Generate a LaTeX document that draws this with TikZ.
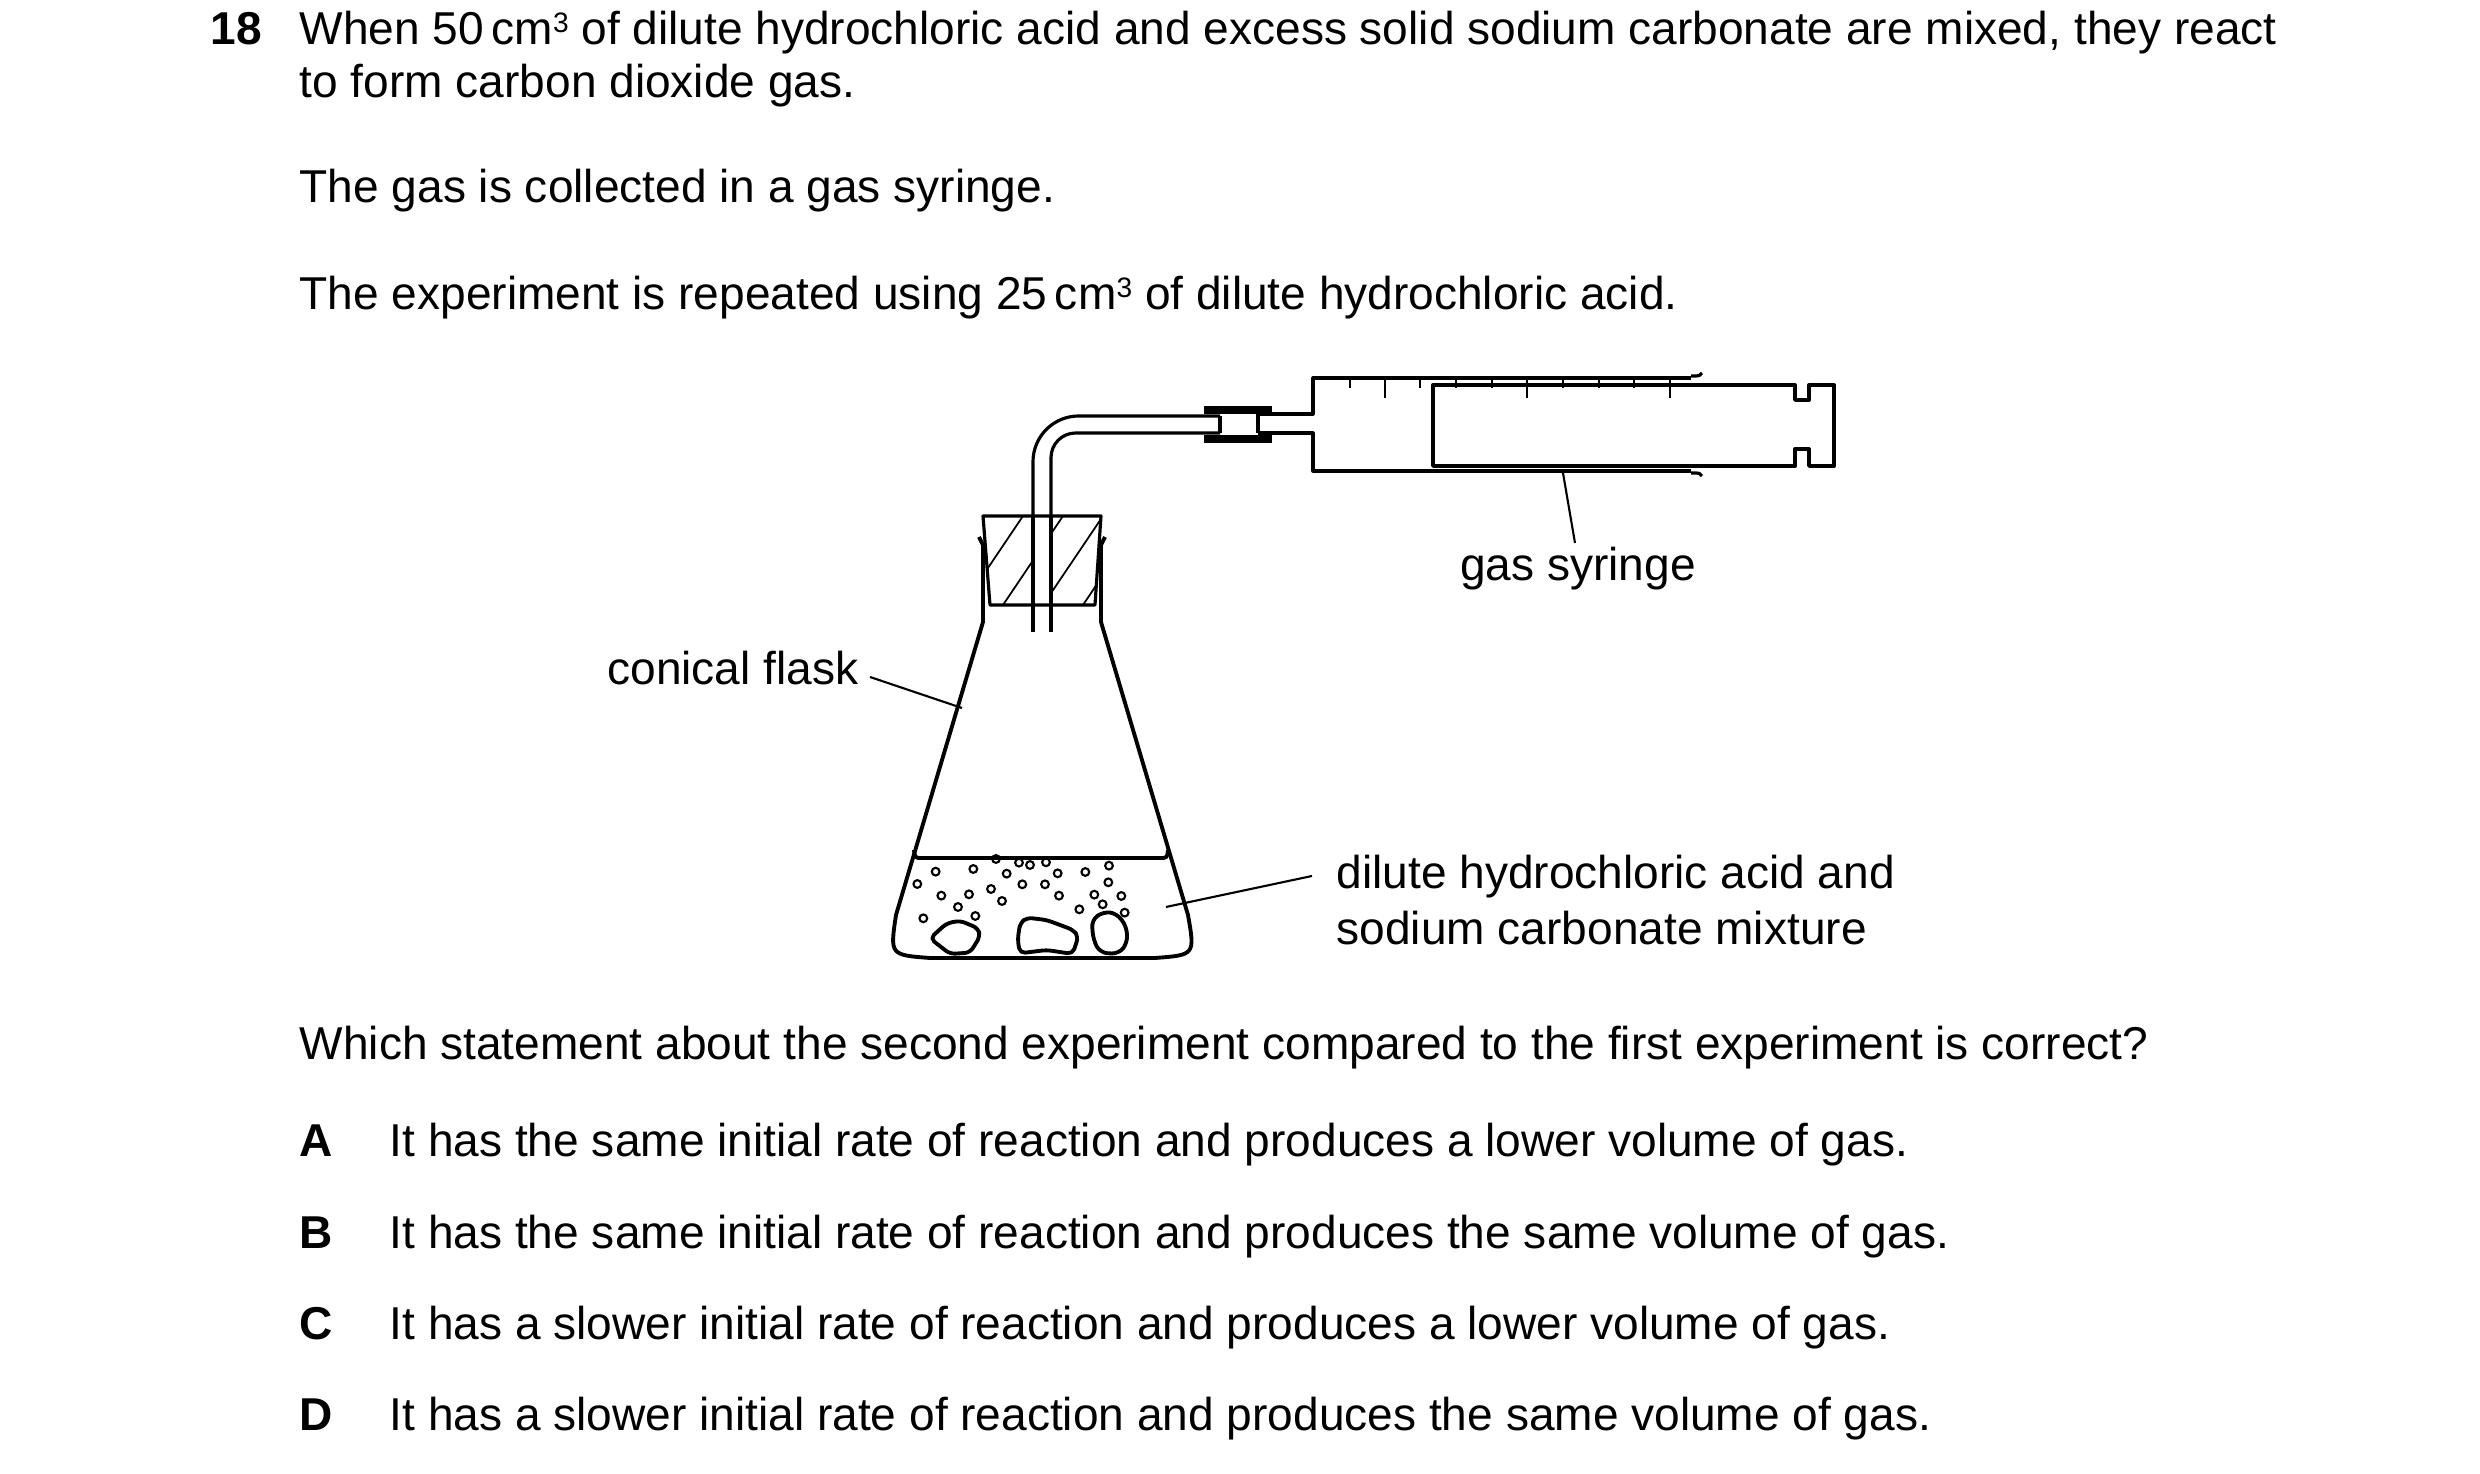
\documentclass[tikz,border=0pt]{standalone}
\usepackage{fontspec}
\setmainfont{Liberation Sans}
\begin{document}
\begin{tikzpicture}[x=0.01cm,y=-0.01cm,
  txt/.style={anchor=base west,inner sep=0pt,font=\fontsize{13.1}{15}\selectfont},
  app/.style={line width=0.9pt,line join=round},
  flask/.style={line width=1.1pt,line join=round},
  lead/.style={line width=0.6pt}]
\useasboundingbox (0,0) rectangle (2480,1474);
\def\cmc{\,cm\raisebox{0.5ex}{\fontsize{8}{8}\selectfont 3}}
% text
\node[txt,font=\fontsize{13.1}{15}\selectfont\bfseries] (q) at (210,45) {18};
\node[txt] (l1) at (299,45) {When 50\cmc{} of dilute hydrochloric acid and excess solid sodium carbonate are mixed, they react};
\node[txt] (l2) at (299,98) {to form carbon dioxide gas.};
\node[txt] (l3) at (299,203) {The gas is collected in a gas syringe.};
\node[txt] (l4) at (299,310) {The experiment is repeated using 25\cmc{} of dilute hydrochloric acid.};
\node[txt] (l5) at (299,1060) {Which statement about the second experiment compared to the first experiment is correct?};
\foreach \L/\y/\t in {A/1157/{It has the same initial rate of reaction and produces a lower volume of gas.},
  B/1249/{It has the same initial rate of reaction and produces the same volume of gas.},
  C/1340/{It has a slower initial rate of reaction and produces a lower volume of gas.},
  D/1431/{It has a slower initial rate of reaction and produces the same volume of gas.}}{
  \node[txt,font=\fontsize{13.1}{15}\selectfont\bfseries] (opt\L) at (299,\y) {\L};
  \node[txt] (txt\L) at (389,\y) {\t};
}
% labels
\node[txt,anchor=base] (gs) at (1578,581) {gas syringe};
\node[txt,anchor=base east] (cf) at (859,685) {conical flask};
\node[txt] (mx1) at (1336,889) {dilute hydrochloric acid and};
\node[txt] (mx2) at (1336,945) {sodium carbonate mixture};
\coordinate (cfa) at (870,677); \coordinate (cfb) at (962,708);
\draw[lead] (cfa) -- (cfb);
\coordinate (mxa) at (1312,876); \coordinate (mxb) at (1166,907);
\draw[lead] (mxa) -- (mxb);
\coordinate (gsa) at (1575,543); \coordinate (gsb) at (1563,473);
\draw[lead] (gsa) -- (gsb);
% syringe barrel
\draw[app] (1691,376) .. controls (1700,376) .. (1702,373);
\draw[app] (1691,473) .. controls (1700,473) .. (1702,476);
\draw[app] (1691,378) -- (1313,378) -- (1313,414) -- (1258,414);
\draw[app] (1691,471) -- (1313,471) -- (1313,433) -- (1258,433);
\foreach \x in {1350,1420,1456,1492,1563,1599,1634}{\draw[line width=0.6pt] (\x,378) -- (\x,388);}
\foreach \x in {1385,1527,1670}{\draw[line width=0.6pt] (\x,378) -- (\x,398);}
% plunger
\draw[app,line width=1.1pt] (1433,385) -- (1795,385) -- (1795,400) -- (1809,400) -- (1809,385) -- (1834,385)
  -- (1834,466) -- (1809,466) -- (1809,449) -- (1795,449) -- (1795,466) -- (1433,466) -- cycle;
% sleeve
\draw[line width=2pt] (1204,410) -- (1272,410);
\draw[line width=2pt] (1204,439) -- (1272,439);
\draw[app] (1220,416) -- (1220,433);
\draw[app] (1258,414) -- (1258,433);
% tube
\draw[app,rounded corners=13pt] (1033,632) -- (1033,416) -- (1220,416);
\draw[app,rounded corners=7pt] (1051,632) -- (1051,433) -- (1220,433);
% bung
\begin{scope}
\clip (983,516) -- (1101,516) -- (1095,605) -- (990,605) -- cycle;
\foreach \s in {-100,-60,...,260}{\draw[line width=0.5pt] (983+\s,605) -- (1043+\s,516);}
\fill[white] (1033,500) rectangle (1051,620);
\end{scope}
\draw[app] (983,516) -- (1101,516) -- (1095,605) -- (990,605) -- cycle;
\draw[app] (1033,516) -- (1033,632);
\draw[app] (1051,516) -- (1051,632);
% flask
\draw[flask] (979,537) -- (983,545) -- (983,622) -- (896,915) .. controls (890,955) .. (930,958)
  -- (1155,958) .. controls (1195,955) .. (1188,915) -- (1101,622) -- (1101,545) -- (1105,537);
\draw[flask] (914,850) .. controls (915,858) .. (922,858) -- (1160,858) .. controls (1167,858) .. (1168,850);
% bubbles
\foreach \a/\b in {112/162,167/125,280/117,348/87,380/131,417/98,450/105,498/97,533/130,616/126,687/107,685/157,724/198,734/248,643/194,668/223,598/238,537/197,495/163,427/163,366/213,333/177,267/193,184/197,234/231,286/258,130/265}
  {\draw[line width=0.6pt] (880+\a/3,830+\b/3) circle (1.1pt);}
% stones
\draw[flask,rounded corners=1.5pt] (880+150/3,830+325/3) -- (880+200/3,830+280/3) -- (880+240/3,830+272/3) -- (880+295/3,830+295/3) -- (880+300/3,830+320/3) -- (880+270/3,830+368/3) -- (880+210/3,830+372/3) -- cycle;
\draw[flask,rounded corners=1.5pt] (880+420/3,830+280/3) -- (880+440/3,830+263/3) -- (880+500/3,830+270/3) -- (880+580/3,830+300/3) -- (880+595/3,830+320/3) -- (880+578/3,830+372/3) -- (880+500/3,830+360/3) -- (880+420/3,830+370/3) -- (880+413/3,830+330/3) -- cycle;
\draw[flask,rounded corners=2pt] (880+635/3,830+270/3) -- (880+670/3,830+245/3) -- (880+710/3,830+250/3) -- (880+740/3,830+290/3) -- (880+742/3,830+340/3) -- (880+715/3,830+372/3) -- (880+660/3,830+368/3) -- (880+640/3,830+330/3) -- cycle;
\end{tikzpicture}
\end{document}
